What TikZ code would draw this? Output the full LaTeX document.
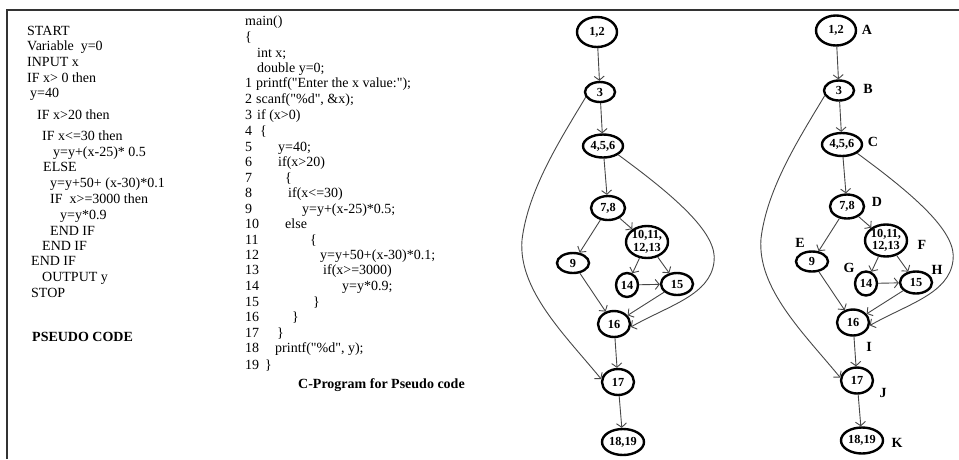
\documentclass[tikz,border=0pt]{standalone}
\usepackage{fontspec}
\setmainfont{Liberation Serif}[Ligatures=TeXOff]
\usetikzlibrary{arrows.meta,shapes.geometric}

% straight double quote
\newcommand{\sq}{{\char34}}

\tikzset{
  txt/.style={anchor=base west, inner sep=0pt, font=\fontsize{14}{16}\selectfont},
  hd/.style={anchor=base west, inner sep=0pt, font=\fontsize{14}{16}\selectfont\bfseries},
  cfnode/.style={ellipse, draw=black, line width=2.4pt, inner sep=0pt,
    font=\fontsize{12.3}{12.6}\selectfont\bfseries, align=center},
  flow/.style={draw=black!72, line width=0.9pt, -{Straight Barb[length=4pt,width=10pt]}},
  tag/.style={font=\fontsize{14}{16}\selectfont\bfseries, inner sep=0pt},
}

% control flow graph; #1 is a prefix for the node names
\newcommand{\cfgraph}[1]{%
  \node[cfnode, minimum width=40pt, minimum height=30pt] (#1n12) at (597,32) {1,2};
  \node[cfnode, minimum width=30pt, minimum height=20pt] (#1n3) at (600,92) {3};
  \node[cfnode, minimum width=40pt, minimum height=23pt] (#1n456) at (603,146) {4,5,6};
  \node[cfnode, minimum width=34pt, minimum height=24pt] (#1n78) at (608,208) {7,8};
  \node[cfnode, inner xsep=-2.5pt, inner ysep=-2pt, minimum width=42pt, minimum height=32pt] (#1nten) at (647,242) {10,11,\\12,13};
  \node[cfnode, minimum width=32pt, minimum height=20pt] (#1n9) at (573,263) {9};
  \node[cfnode, minimum width=22pt, minimum height=24pt] (#1n14) at (627,285) {14};
  \node[cfnode, minimum width=32pt, minimum height=22pt] (#1n15) at (677,284) {15};
  \node[cfnode, minimum width=32pt, minimum height=26pt] (#1n16) at (614,324) {16};
  \node[cfnode, minimum width=32pt, minimum height=26pt] (#1n17) at (618,382) {17};
  \node[cfnode, minimum width=42pt, minimum height=26pt] (#1n18) at (623,442) {18,19};
  \draw[flow] (#1n12) -- (#1n3);
  \draw[flow] (#1n3) -- (#1n456);
  \draw[flow] (#1n456) -- (#1n78);
  \draw[flow] (#1n78) -- (#1n9);
  \draw[flow] (#1n78) -- (#1nten);
  \draw[flow] (#1nten) -- (#1n14);
  \draw[flow] (#1nten) -- (#1n15);
  \draw[flow] (#1n14) -- (#1n15);
  \draw[flow] (#1n9) -- (#1n16);
  \draw[flow] (#1n15) -- (#1n16);
  \draw[flow] (#1n16) -- (#1n17);
  \draw[flow] (#1n17) -- (#1n18);
  \draw[flow] (#1n3.200) .. controls (560,140) and (528,190) .. (522,240)
    .. controls (518,290) and (565,335) .. (#1n17.170);
  \draw[flow] (#1n456.-30) .. controls (680,200) and (718,235) .. (714,262)
    .. controls (710,295) and (670,305) .. (#1n16.-10);
}

\begin{document}
\begin{tikzpicture}[x=1pt,y=-1pt]
\useasboundingbox (0,0) rectangle (959,459);
\fill[white] (0,0) rectangle (959,459);

% frame
\draw[line width=1.6pt, black!80] (7,459) -- (7,10) -- (959,10);

% pseudo code
\node[txt] (p1)  at (27,35)    {START};
\node[txt] (p2)  at (27,50.5)  {Variable~ y=0};
\node[txt] (p3)  at (27,66.5)  {INPUT x};
\node[txt] (p4)  at (27,82)    {IF x> 0 then};
\node[txt] (p5)  at (30,97.5)  {y=40};
\node[txt] (p6)  at (37,119.5) {IF x>20 then};
\node[txt] (p7)  at (42,140.5) {IF x<=30 then};
\node[txt] (p8)  at (53,156.5) {y=y+(x-25)* 0.5};
\node[txt] (p9)  at (43,171.5) {ELSE};
\node[txt] (p10) at (50,187.5) {y=y+50+ (x-30)*0.1};
\node[txt] (p11) at (50,203.5) {IF~ x>=3000 then};
\node[txt] (p12) at (60,219.5) {y=y*0.9};
\node[txt] (p13) at (50,235)   {END IF};
\node[txt] (p14) at (42,250)   {END IF};
\node[txt] (p15) at (31,265.5) {END IF};
\node[txt] (p16) at (42,281.5) {OUTPUT y};
\node[txt] (p17) at (31,297)   {STOP};
\node[hd]  (p18) at (32,341.5) {PSEUDO CODE};

% C program
\node[txt] (c0a) at (245,25.5)  {main()};
\node[txt] (c0b) at (245,41.5)  {\{};
\node[txt] (c0c) at (257,57.5)  {int x;};
\node[txt] (c0d) at (257,72.5)  {double y=0;};
\node[txt] (k1)  at (245,87.5)  {1};  \node[txt] (c1)  at (256,87.5)  {printf(\sq Enter the x value:\sq);};
\node[txt] (k2)  at (245,103.5) {2};  \node[txt] (c2)  at (256,103.5) {scanf(\sq\%d\sq, \&x);};
\node[txt] (k3)  at (245,119.5) {3};  \node[txt] (c3)  at (257,119.5) {if (x>0)};
\node[txt] (k4)  at (245,135.5) {4};  \node[txt] (c4)  at (260,135.5) {\{};
\node[txt] (k5)  at (245,151.5) {5};  \node[txt] (c5)  at (278,151.5) {y=40;};
\node[txt] (k6)  at (245,166.5) {6};  \node[txt] (c6)  at (278,166.5) {if(x>20)};
\node[txt] (k7)  at (245,182.5) {7};  \node[txt] (c7)  at (285,182.5) {\{};
\node[txt] (k8)  at (245,197.5) {8};  \node[txt] (c8)  at (288,197.5) {if(x<=30)};
\node[txt] (k9)  at (245,213.5) {9};  \node[txt] (c9)  at (302,213.5) {y=y+(x-25)*0.5;};
\node[txt] (k10) at (245,228.5) {10}; \node[txt] (c10) at (285,228.5) {else};
\node[txt] (k11) at (245,244.5) {11}; \node[txt] (c11) at (310,244.5) {\{};
\node[txt] (k12) at (245,259.5) {12}; \node[txt] (c12) at (320,259.5) {y=y+50+(x-30)*0.1;};
\node[txt] (k13) at (245,274.5) {13}; \node[txt] (c13) at (323,274.5) {if(x>=3000)};
\node[txt] (k14) at (245,290.5) {14}; \node[txt] (c14) at (342,290.5) {y=y*0.9;};
\node[txt] (k15) at (245,306.5) {15}; \node[txt] (c15) at (313,306.5) {\}};
\node[txt] (k16) at (245,321.5) {16}; \node[txt] (c16) at (292,321.5) {\}};
\node[txt] (k17) at (245,337.5) {17}; \node[txt] (c17) at (277,337.5) {\}};
\node[txt] (k18) at (245,352.5) {18}; \node[txt] (c18) at (275,352.5) {printf(\sq\%d\sq, y);};
\node[txt] (k19) at (245,369.5) {19}; \node[txt] (c19) at (265,369.5) {\}};
\node[hd]  (ct)  at (298,388.5) {C-Program for Pseudo code};

% plain graph
\cfgraph{L}

% graph with edge letters
\begin{scope}[shift={(239,-1.5)}]
  \cfgraph{R}
\end{scope}
\node[tag] (lA) at (867,30)  {A};
\node[tag] (lB) at (868,89)  {B};
\node[tag] (lC) at (873,142) {C};
\node[tag] (lD) at (877,202) {D};
\node[tag] (lE) at (800,243) {E};
\node[tag] (lF) at (922,245) {F};
\node[tag] (lG) at (849,268) {G};
\node[tag] (lH) at (937,270) {H};
\node[tag] (lI) at (869,347) {I};
\node[tag] (lJ) at (883,393) {J};
\node[tag] (lK) at (897,443) {K};
\end{tikzpicture}
\end{document}
